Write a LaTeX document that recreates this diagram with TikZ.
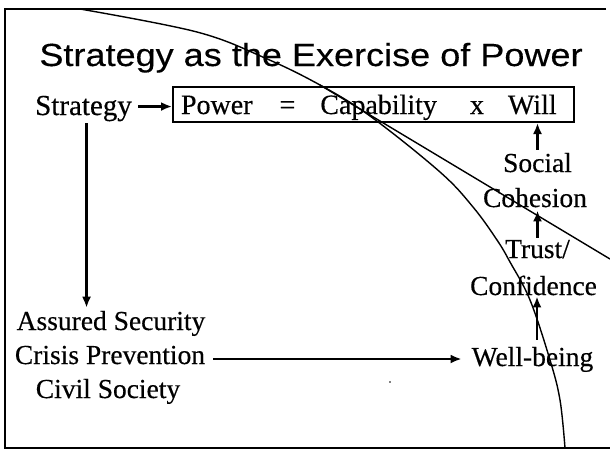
\documentclass[tikz,border=0pt]{standalone}
\usepackage{fontspec}
\setmainfont{Liberation Serif}[FakeBold=0.4]
\newfontfamily\titlefont{Liberation Sans}[FakeBold=0.3]
\usetikzlibrary{arrows.meta}
\tikzset{
  lbl/.style={font=\fontsize{27.5}{30}\selectfont, inner sep=3pt, anchor=base},
  arr/.style={line width=2.4pt, -{Latex[length=11pt,width=9pt]}},
  frame/.style={line width=2pt},
  arc/.style={line width=1.4pt},
  eqbox/.style={draw, line width=2pt, rectangle, inner sep=0pt, anchor=base west,
    text height=27pt, text depth=8pt, font=\fontsize{28}{30}\selectfont}
}
\begin{document}
\begin{tikzpicture}[x=1pt,y=-1pt]
\useasboundingbox (0,0) rectangle (610,451);
% frame
\draw[frame] (606,9) -- (5,9) -- (5,448) -- (610,448);
% title
\node[anchor=base, inner sep=0pt] (title) at (311,66)
  {\scalebox{1.127}[1]{\titlefont\fontsize{32}{36}\selectfont Strategy as the Exercise of Power}};
% curves
\draw[arc] plot[smooth, tension=0.6] coordinates {(80,9) (197,32) (265,58) (320,85) (370,116) (440,172) (473,207) (497,240) (510,262) (530,300) (550,360) (560,400) (565,448)};
\draw[arc] (320,85) .. controls (400,133) and (500,193) .. (610,259);
% nodes
\node[lbl, anchor=base west, inner sep=0pt] (strat) at (35,115) {\fontsize{29}{30}\selectfont Strategy};
\node[eqbox] (box) at (172,114) {\makebox[401pt][l]{\hspace{8pt}Power\hspace{27pt}=\hspace{25pt}Capability\hspace{33pt}x\hspace{24pt}Will}};
\node[lbl] (sec) at (111,330) {Assured Security};
\node[lbl] (crisis) at (110,364) {Crisis Prevention};
\node[lbl] (civil) at (108,398) {Civil Society};
\node[lbl] (social) at (537.5,172) {Social};
\node[lbl] (cohesion) at (535,207) {Cohesion};
\node[lbl] (trust) at (537.5,258) {Trust/};
\node[lbl] (confid) at (533.5,295) {Confidence};
\node[lbl] (well) at (532.5,366) {Well-being};
% connectors
\draw[arr] ([xshift=6pt,yshift=2pt]strat.east) -- ([yshift=2pt]strat.east -| box.west);
\draw[arr] ([xshift=3pt,yshift=-2pt]strat.south) -- ([xshift=3pt]strat.south |- sec.north);
\draw[arr] ([xshift=5pt]crisis.east |- 0,359) -- ([xshift=-7pt]well.west |- 0,359);
\draw[arr] (social.north) -- (social.north |- box.south);
\draw[arr] ([yshift=-1pt]trust.north) -- (trust.north |- cohesion.south);
\draw[arr] ([xshift=4.5pt,yshift=4pt]well.north) -- ([xshift=4.5pt,yshift=2pt]well.north |- confid.south);
\fill (390,382) circle (0.9);
\end{tikzpicture}
\end{document}
